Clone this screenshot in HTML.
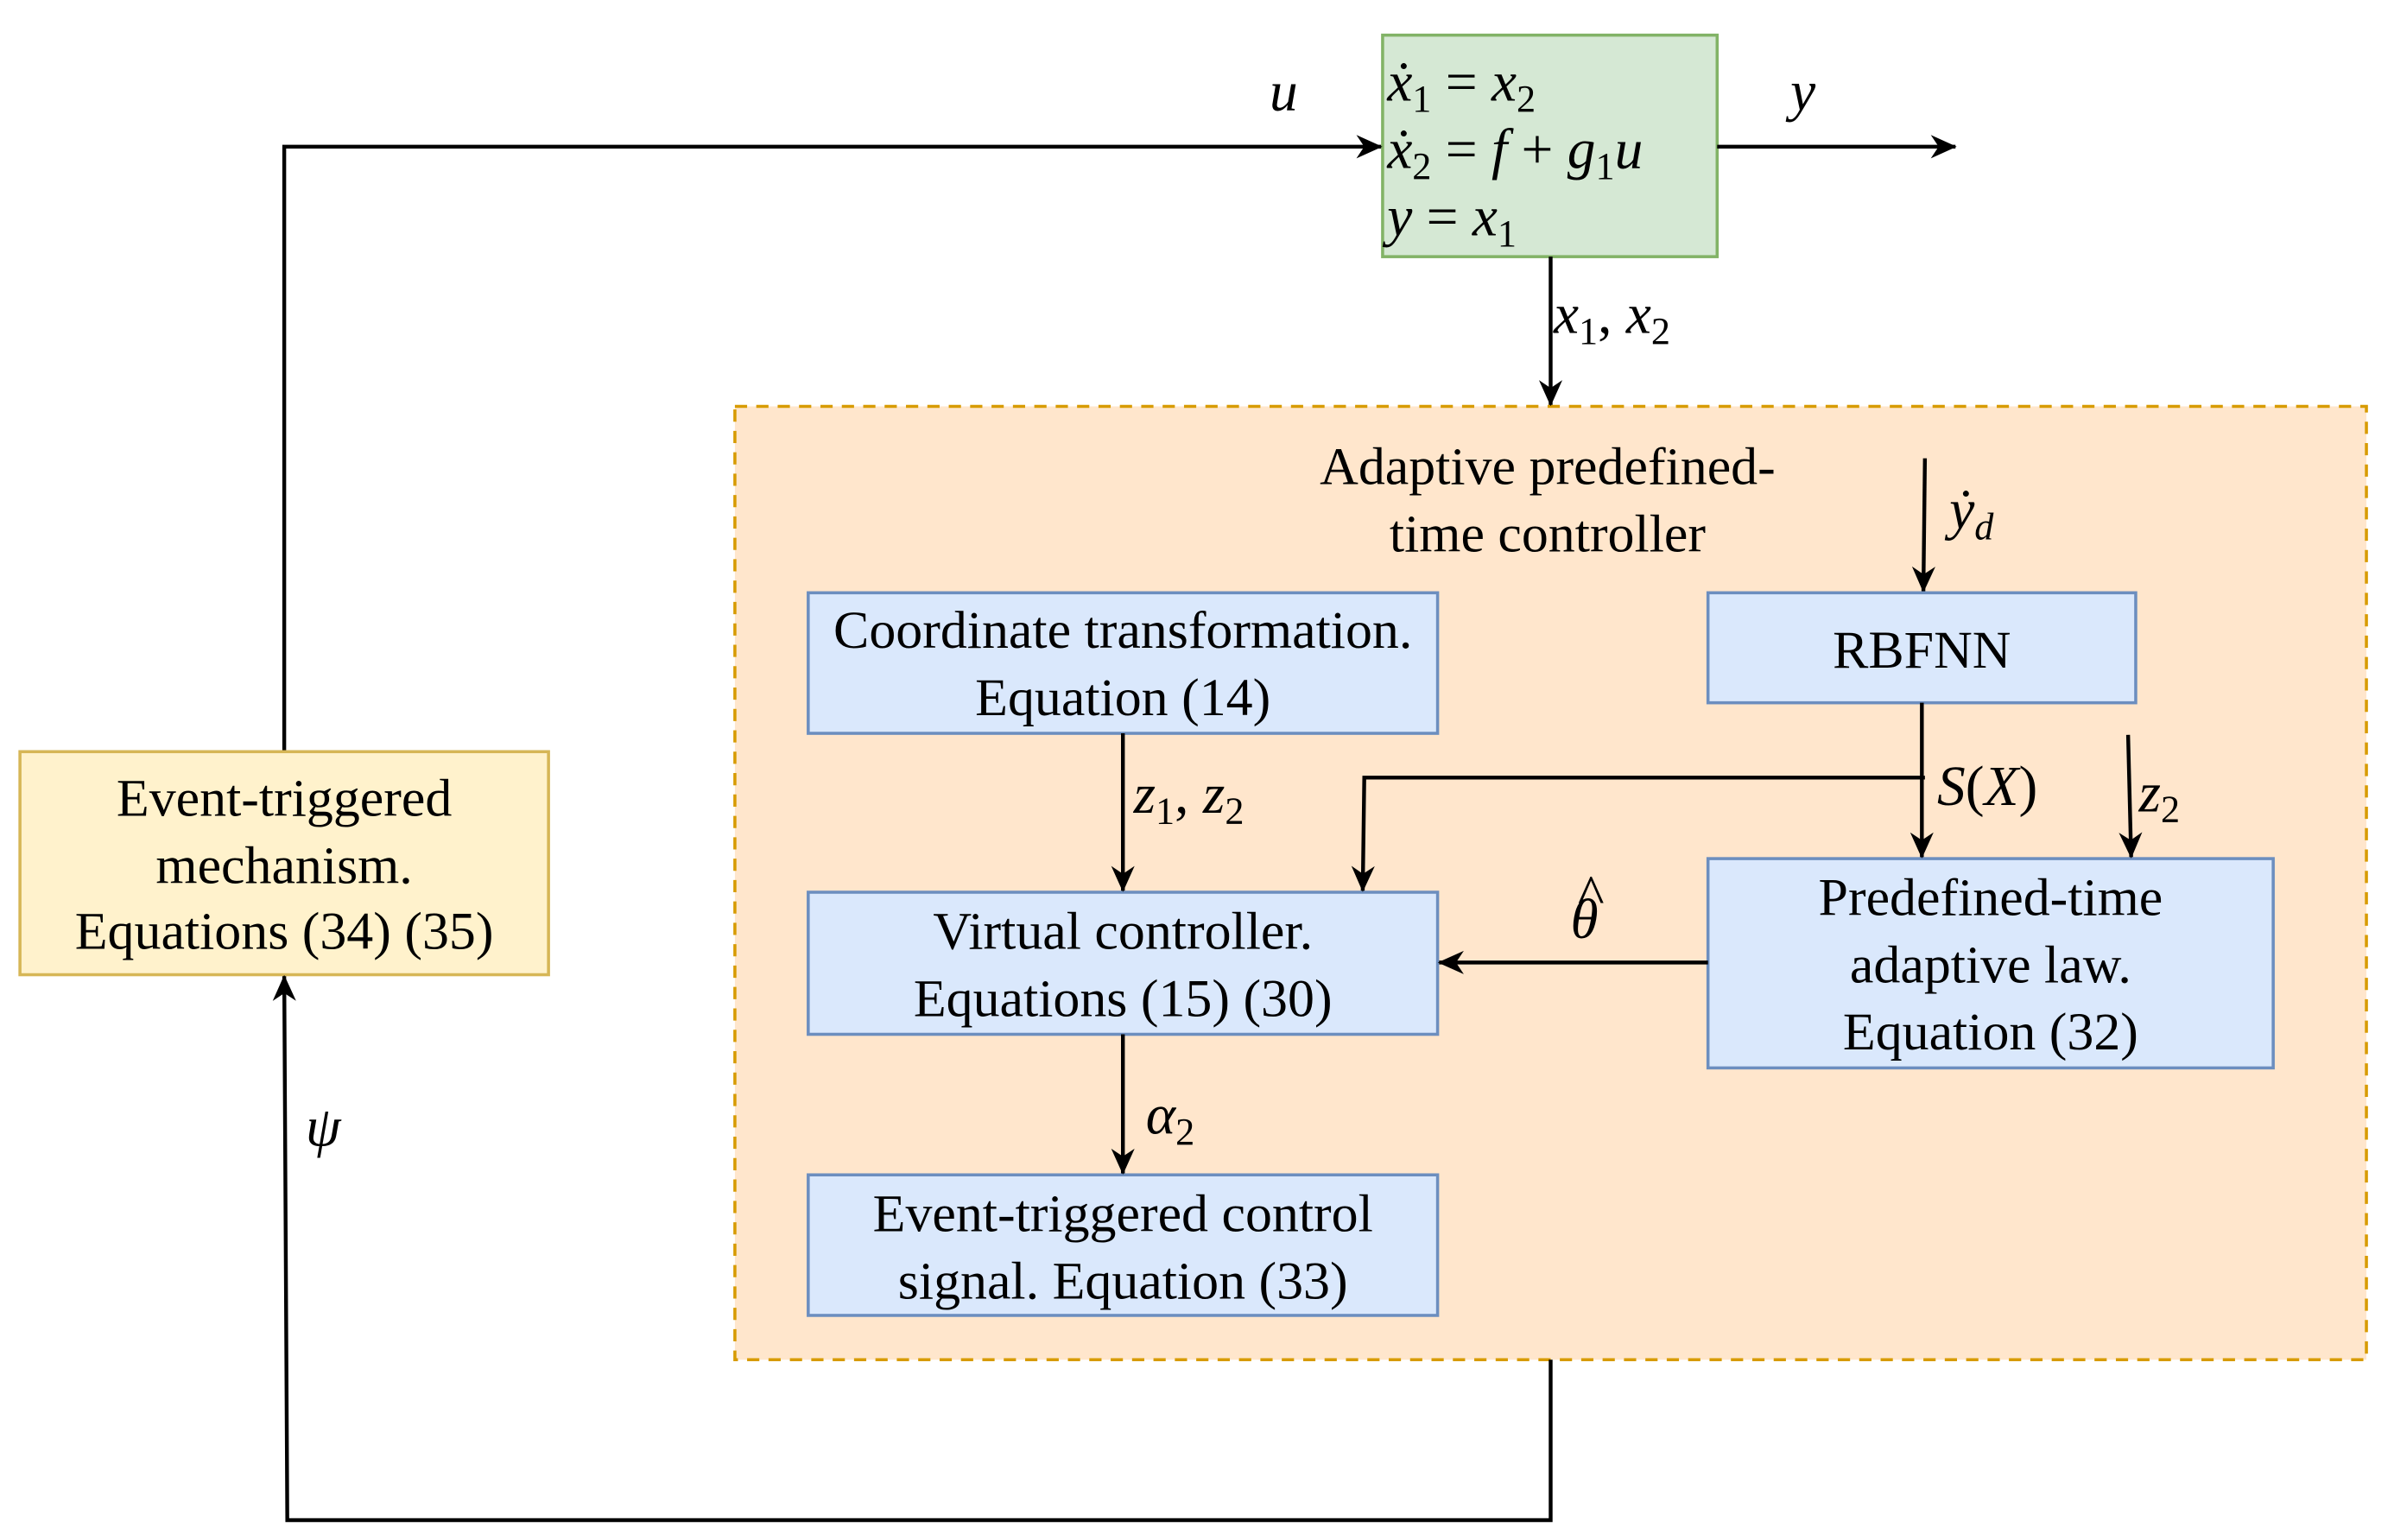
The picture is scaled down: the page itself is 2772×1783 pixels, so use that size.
<!DOCTYPE html>
<html><head><meta charset="utf-8"><style>
html,body{margin:0;padding:0;background:#fff;}
svg{display:block}
.t{font-family:"Liberation Serif","Times New Roman",serif;font-size:35px;fill:#000;text-anchor:middle}
.m{font-family:"Liberation Serif","Times New Roman",serif;font-style:italic;font-size:37px;fill:#000}
.s{font-size:25px;font-style:normal}
.si{font-size:25px}
</style></head><body>
<svg width="2772" height="1783" viewBox="0 0 1567 1008" xmlns="http://www.w3.org/2000/svg">
<defs>
<marker id="a" viewBox="0 0 20 20" refX="19" refY="10" markerWidth="17" markerHeight="17" markerUnits="userSpaceOnUse" orient="auto">
<path d="M0,1 L20,10 L0,19 L6,10 Z" fill="#000"/>
</marker>
</defs>
<rect x="0" y="0" width="1567" height="1008" fill="#fff"/>
<rect x="481" y="266" width="1068" height="624" fill="#ffe6cc" stroke="#d79b00" stroke-width="2" stroke-dasharray="8,6"/>
<rect x="905" y="23" width="219" height="145" fill="#d5e8d4" stroke="#82b366" stroke-width="2"/>
<text class="m" x="908" y="66">ẋ<tspan class="s" dy="7">1</tspan><tspan dy="-7" font-style="normal"> = </tspan>x<tspan class="s" dy="7">2</tspan></text>
<text class="m" x="908" y="110">ẋ<tspan class="s" dy="7">2</tspan><tspan dy="-7" font-style="normal"> = </tspan>f<tspan font-style="normal"> + </tspan>g<tspan class="s" dy="7">1</tspan><tspan dy="-7">u</tspan></text>
<text class="m" x="908" y="154">y<tspan font-style="normal"> = </tspan>x<tspan class="s" dy="7">1</tspan></text>
<polyline points="186,492 186,96 904,96" fill="none" stroke="#000" stroke-width="2.5" marker-end="url(#a)"/>
<text class="m" x="831" y="72">u</text>
<line x1="1124" y1="96" x2="1280" y2="96" stroke="#000" stroke-width="2.5" marker-end="url(#a)"/>
<text class="m" x="1172" y="72">y</text>
<line x1="1015" y1="168" x2="1015" y2="265" stroke="#000" stroke-width="2.5" marker-end="url(#a)"/>
<text class="m" x="1017" y="218">x<tspan class="s" dy="7">1</tspan><tspan dy="-7" font-style="normal">, </tspan>x<tspan class="s" dy="7">2</tspan></text>
<text class="t" x="1013" y="317">Adaptive predefined-</text>
<text class="t" x="1013" y="361">time controller</text>
<line x1="1260" y1="300" x2="1259" y2="387" stroke="#000" stroke-width="2.5" marker-end="url(#a)"/>
<text class="m" x="1276" y="346">ẏ<tspan class="si" dy="7">d</tspan></text>
<rect x="529" y="388" width="412" height="92" fill="#dae8fc" stroke="#6c8ebf" stroke-width="2"/>
<text class="t" x="735" y="424">Coordinate transformation.</text>
<text class="t" x="735" y="468">Equation (14)</text>
<rect x="1118" y="388" width="280" height="72" fill="#dae8fc" stroke="#6c8ebf" stroke-width="2"/>
<text class="t" x="1258" y="437">RBFNN</text>
<rect x="529" y="584" width="412" height="93" fill="#dae8fc" stroke="#6c8ebf" stroke-width="2"/>
<text class="t" x="735" y="621">Virtual controller.</text>
<text class="t" x="735" y="665">Equations (15) (30)</text>
<rect x="1118" y="562" width="370" height="137" fill="#dae8fc" stroke="#6c8ebf" stroke-width="2"/>
<text class="t" x="1303" y="599">Predefined-time</text>
<text class="t" x="1303" y="643">adaptive law.</text>
<text class="t" x="1303" y="687">Equation (32)</text>
<rect x="529" y="769" width="412" height="92" fill="#dae8fc" stroke="#6c8ebf" stroke-width="2"/>
<text class="t" x="735" y="806">Event-triggered control</text>
<text class="t" x="735" y="850">signal. Equation  (33)</text>
<line x1="735" y1="480" x2="735" y2="583" stroke="#000" stroke-width="2.5" marker-end="url(#a)"/>
<text class="m" x="742" y="532">z<tspan class="s" dy="7">1</tspan><tspan dy="-7" font-style="normal">, </tspan>z<tspan class="s" dy="7">2</tspan></text>
<line x1="1258" y1="460" x2="1258" y2="561" stroke="#000" stroke-width="2.5" marker-end="url(#a)"/>
<polyline points="1260,509 893,509 892,583" fill="none" stroke="#000" stroke-width="2.5" marker-end="url(#a)"/>
<text class="m" x="1268" y="527">S<tspan font-style="normal">(</tspan>X<tspan font-style="normal">)</tspan></text>
<line x1="1393" y1="481" x2="1395" y2="561" stroke="#000" stroke-width="2.5" marker-end="url(#a)"/>
<text class="m" x="1400" y="531">z<tspan class="s" dy="7">2</tspan></text>
<line x1="1118" y1="630" x2="942" y2="630" stroke="#000" stroke-width="2.5" marker-end="url(#a)"/>
<text class="m" x="1028" y="614">θ</text>
<text class="m" x="1032" y="598" font-style="normal" font-size="26">^</text>
<line x1="735" y1="677" x2="735" y2="768" stroke="#000" stroke-width="2.5" marker-end="url(#a)"/>
<text class="m" x="750" y="742">α<tspan class="s" dy="7">2</tspan></text>
<rect x="13" y="492" width="346" height="146" fill="#fff2cc" stroke="#d6b656" stroke-width="2"/>
<text class="t" x="186" y="534">Event-triggered</text>
<text class="t" x="186" y="578">mechanism.</text>
<text class="t" x="186" y="621">Equations  (34) (35)</text>
<polyline points="1015,890 1015,995 188,995 186,639" fill="none" stroke="#000" stroke-width="2.5" marker-end="url(#a)"/>
<text class="m" x="200" y="750">ψ</text>
</svg>
</body></html>
